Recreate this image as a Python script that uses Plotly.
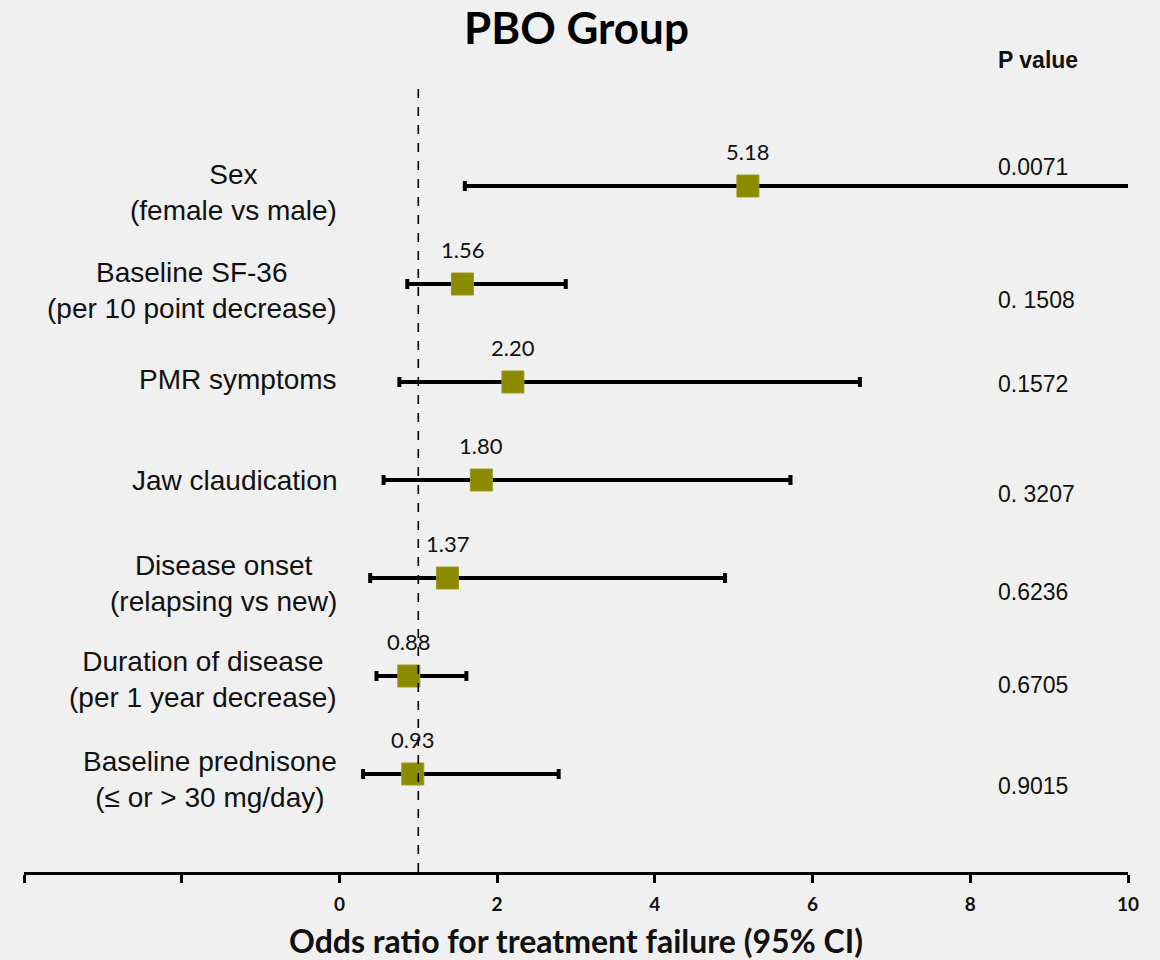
import plotly.graph_objects as go

# ---- data ----
factors = [
    "Sex<br>(female vs male)",
    "Baseline SF-36<br>(per 10 point decrease)",
    "PMR symptoms",
    "Jaw claudication",
    "Disease onset<br>(relapsing vs new)",
    "Duration of disease<br>(per 1 year decrease)",
    "Baseline prednisone<br>(≤ or > 30 mg/day)",
]
odds_ratio = [5.18, 1.56, 2.20, 1.80, 1.37, 0.88, 0.93]
ci_lower = [1.59, 0.86, 0.76, 0.56, 0.39, 0.47, 0.30]
ci_upper = [16.9, 2.87, 6.60, 5.72, 4.89, 1.61, 2.78]
or_labels = ["5.18", "1.56", "2.20", "1.80", "1.37", "0.88", "0.93"]
p_values = ["0.0071", "0. 1508", "0.1572", "0. 3207", "0.6236", "0.6705", "0.9015"]
tick_vals = [-4, -2, 0, 2, 4, 6, 8, 10]
tick_text = ["", "", "0", "2", "4", "6", "8", "10"]
reference_line = 1

# ---- layout styling ----
n = len(factors)
row_y = [n - i for i in range(n)]
pval_yshift = [19, -16, -2, -14, -14, -9, -12]
label_yshift = [-6, -6, 3, 0, -5, -3, -5]

SANS = "Liberation Sans, Arial, sans-serif"
CAL = "Lato, Open Sans, sans-serif"
BG = "#f0f0f0"

fig = go.Figure()
fig.add_trace(go.Scatter(
    x=odds_ratio,
    y=row_y,
    mode="markers",
    marker=dict(symbol="square", size=22, color="#8b8b00",
                line=dict(width=1, color="#9a9a20")),
    error_x=dict(
        type="data",
        symmetric=False,
        array=[u - o for u, o in zip(ci_upper, odds_ratio)],
        arrayminus=[o - l for o, l in zip(odds_ratio, ci_lower)],
        color="black",
        thickness=4,
        width=5,
    ),
    hoverinfo="skip",
    showlegend=False,
))

fig.add_shape(type="line", xref="x", yref="paper",
              x0=reference_line, x1=reference_line, y0=0, y1=1,
              line=dict(color="black", width=1.6, dash="dash"))

annotations = []
for i in range(n):
    annotations.append(dict(
        x=odds_ratio[i], y=row_y[i], xref="x", yref="y",
        text=or_labels[i], showarrow=False, yshift=35, yanchor="middle",
        font=dict(family=CAL, size=22, color="#111111"),
    ))
    annotations.append(dict(
        x=0.0, y=row_y[i], xref="x", yref="y",
        text=factors[i], showarrow=False, xanchor="right", align="center",
        yanchor="middle", yshift=label_yshift[i],
        font=dict(family=SANS, size=28, color="#111111"),
    ))
    annotations.append(dict(
        x=8.33, y=row_y[i], xref="x", yref="y",
        text=p_values[i], showarrow=False, xanchor="left", yanchor="middle",
        yshift=pval_yshift[i],
        font=dict(family=SANS, size=23, color="#111111"),
    ))

annotations.append(dict(
    x=8.33, y=1, xref="x", yref="paper", yshift=28,
    xanchor="left", yanchor="middle",
    text="<b>P value</b>", showarrow=False,
    font=dict(family=SANS, size=23, color="#111111"),
))
annotations.append(dict(
    x=0.5, y=1, xref="paper", yref="paper", yshift=61, yanchor="middle",
    text="<b>PBO Group</b>", showarrow=False,
    font=dict(family=CAL, size=44, color="#000000"),
))

fig.update_layout(
    width=1160, height=960,
    margin=dict(l=24, r=32, t=88, b=88),
    paper_bgcolor=BG, plot_bgcolor=BG,
    annotations=annotations,
    xaxis=dict(
        range=[-4, 10],
        automargin=False,
        tickvals=tick_vals, ticktext=tick_text,
        showline=True, linecolor="black", linewidth=2.5,
        ticks="outside", ticklen=8, tickwidth=2.5, tickcolor="black",
        ticklabelstandoff=5,
        showgrid=False, zeroline=False,
        tickfont=dict(family=CAL, size=19, color="#111111", weight="bold"),
        title=dict(text="<b>Odds ratio for treatment failure (95% CI)</b>",
                   font=dict(family=CAL, size=32, color="#111111"), standoff=18),
    ),
    yaxis=dict(range=[0, 8], visible=False, showgrid=False, zeroline=False,
               automargin=False),
)

fig.write_html("out.html", config={"displayModeBar": False},
               post_script="document.body.style.margin='0';document.body.style.background='#f0f0f0';")
